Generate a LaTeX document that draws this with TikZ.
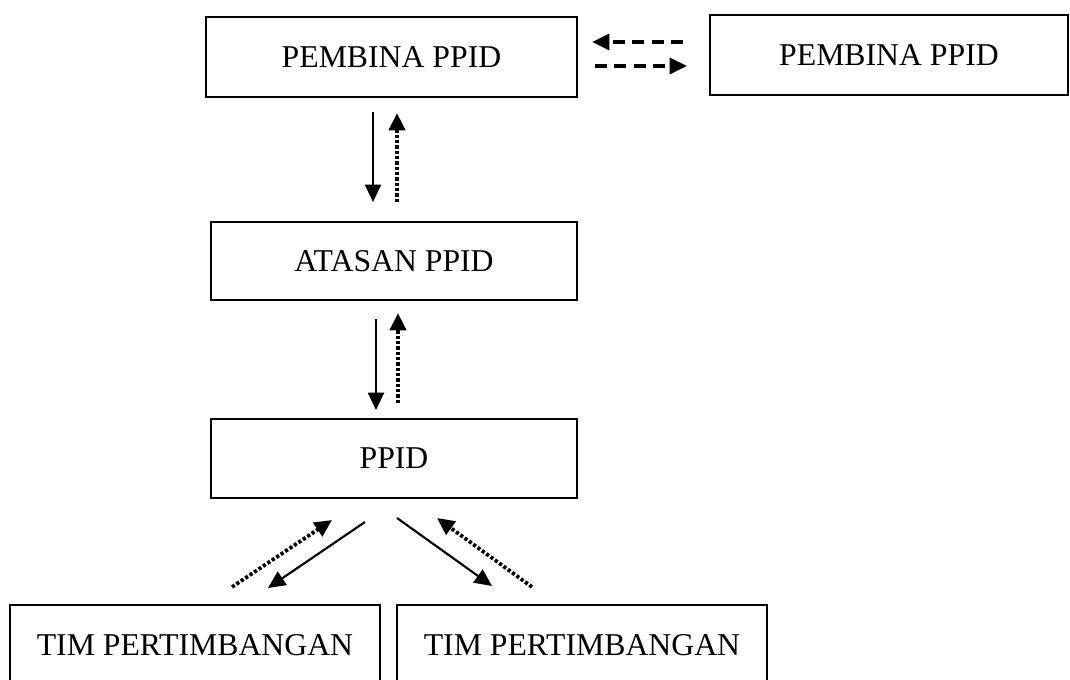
\documentclass[tikz,border=0pt]{standalone}
\usepackage{fontspec}
\setmainfont{Liberation Serif}
\usetikzlibrary{arrows.meta}
\begin{document}
\begin{tikzpicture}[x=0.75pt,y=-0.75pt,
    box/.style={draw,line width=1.5pt,minimum width=274.5pt,minimum height=59pt,inner sep=0pt,font=\fontsize{23.8}{28}\selectfont},
    tip/.style={-{Triangle[length=13pt,width=12pt]}},
    flow/.style={tip,line width=1.6pt},
    back/.style={tip,line width=2.8pt,dash pattern=on 2.4pt off 1.6pt},
    link/.style={tip,line width=2.6pt,dash pattern=on 9pt off 5.5pt}]
      \clip (0,0) rectangle (1070,680);
      \node[box,minimum width=278pt,minimum height=60pt] (pembina) at (391.5,57) {PEMBINA PPID};
      \node[box,minimum width=268.5pt,minimum height=60pt] (pembinalain) at (889,55) {PEMBINA PPID};
      \node[box] (atasan) at (394,261) {ATASAN PPID};
      \node[box] (ppid) at (394,458.5) {PPID};
      \node[box,minimum width=277.5pt,minimum height=60pt] (timkiri) at (195,645) {TIM PERTIMBANGAN};
      \node[box,minimum width=277.5pt,minimum height=60pt] (timkanan) at (582,645) {TIM PERTIMBANGAN};
      \coordinate (a1) at (683,42);  \coordinate (a2) at (592,42);
      \coordinate (b1) at (595,66);  \coordinate (b2) at (687,66);
      \coordinate (c1) at (373,112); \coordinate (c2) at (373,202);
      \coordinate (d1) at (397,202); \coordinate (d2) at (397,113);
      \coordinate (e1) at (376,319); \coordinate (e2) at (376,410);
      \coordinate (f1) at (398,403); \coordinate (f2) at (398,313);
      \coordinate (g1) at (232,587); \coordinate (g2) at (332,520);
      \coordinate (h1) at (365,522); \coordinate (h2) at (268,588);
      \coordinate (i1) at (397,518); \coordinate (i2) at (492,586);
      \coordinate (j1) at (532,587); \coordinate (j2) at (437,518);
      \draw[link] (a1) -- (a2);
      \draw[link] (b1) -- (b2);
      \draw[flow] (c1) -- (c2);
      \draw[back] (d1) -- (d2);
      \draw[flow] (e1) -- (e2);
      \draw[back] (f1) -- (f2);
      \draw[back] (g1) -- (g2);
      \draw[flow] (h1) -- (h2);
      \draw[flow] (i1) -- (i2);
      \draw[back] (j1) -- (j2);
\end{tikzpicture}
\end{document}
